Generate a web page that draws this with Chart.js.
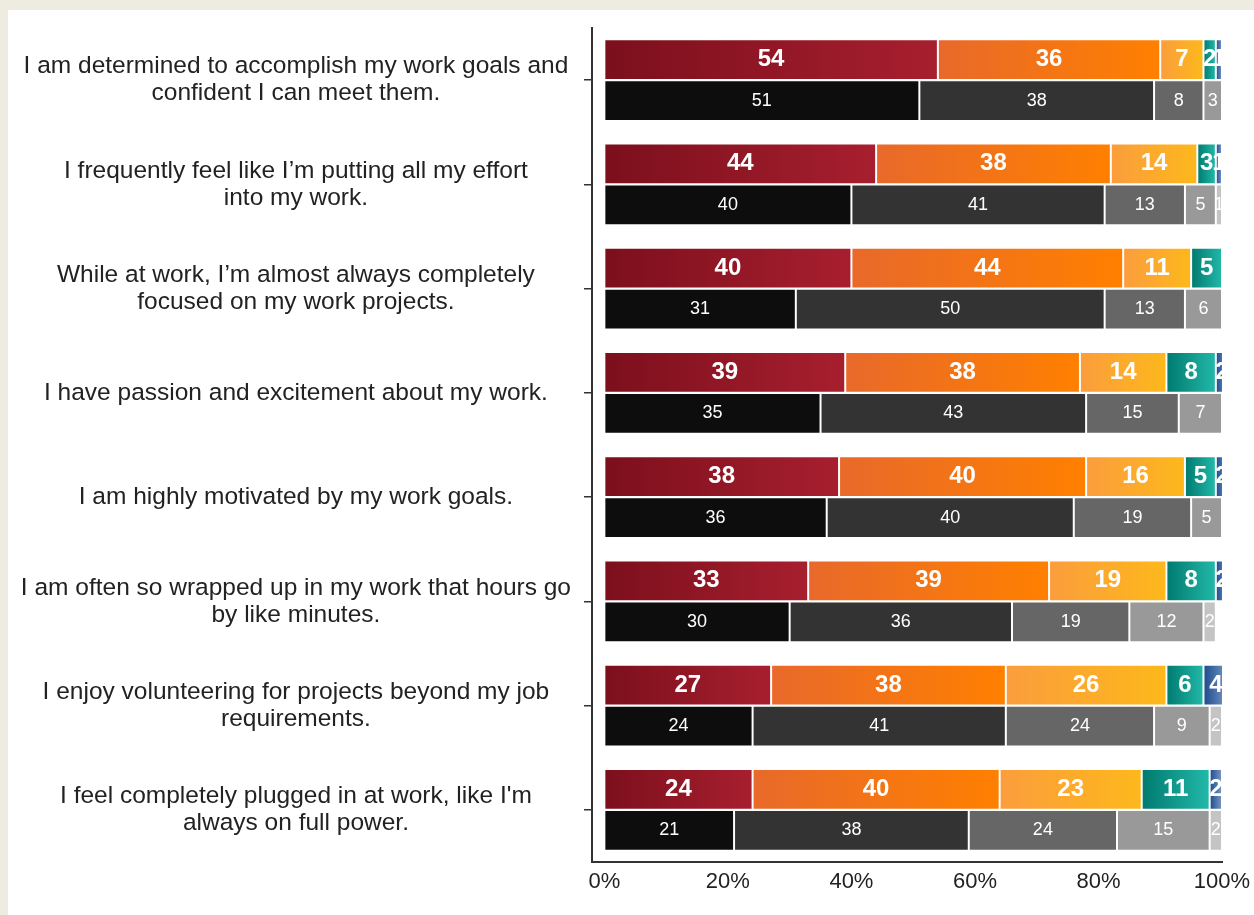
<!DOCTYPE html>
<html>
<head>
<meta charset="utf-8">
<script src="https://cdn.jsdelivr.net/npm/chart.js@4.4.1/dist/chart.umd.min.js"></script>
<style>
  html, body { margin: 0; padding: 0; background: #eeebe0; }
  #wrap { position: absolute; left: 8px; top: 10px; width: 1246px; height: 905px; background: #fff; }
  canvas { display: block; }
</style>
</head>
<body>
<div id="wrap"><canvas id="engagementChart" width="1246" height="905"></canvas></div>
<script>
const statements = [
  ["I am determined to accomplish my work goals and", "confident I can meet them."],
  ["I frequently feel like I\u2019m putting all my effort", "into my work."],
  ["While at work, I\u2019m almost always completely", "focused on my work projects."],
  "I have passion and excitement about my work.",
  "I am highly motivated by my work goals.",
  ["I am often so wrapped up in my work that hours go", "by like minutes."],
  ["I enjoy volunteering for projects beyond my job", "requirements."],
  ["I feel completely plugged in at work, like I'm", "always on full power."]
];

// company responses (coloured bars)
const stronglyAgree    = [54, 44, 40, 39, 38, 33, 27, 24];
const agree            = [36, 38, 44, 38, 40, 39, 38, 40];
const neutral          = [7, 14, 11, 14, 16, 19, 26, 23];
const disagree         = [2, 3, 5, 8, 5, 8, 6, 11];
const stronglyDisagree = [1, 1, 0, 2, 2, 2, 4, 2];

// benchmark responses (grey bars)
const benchStronglyAgree    = [51, 40, 31, 35, 36, 30, 24, 21];
const benchAgree            = [38, 41, 50, 43, 40, 36, 41, 38];
const benchNeutral          = [8, 13, 13, 15, 19, 19, 24, 24];
const benchDisagree         = [3, 5, 6, 7, 5, 12, 9, 15];
const benchStronglyDisagree = [0, 1, 0, 1, 1, 2, 2, 2];

const xTicks = [0, 20, 40, 60, 80, 100];

const colourSeries = [stronglyAgree, agree, neutral, disagree, stronglyDisagree];
const greySeries = [benchStronglyAgree, benchAgree, benchNeutral, benchDisagree, benchStronglyDisagree];
const seriesNames = ["Strongly agree", "Agree", "Neutral", "Disagree", "Strongly disagree"];

const gradientStops = [
  ["#7c0f1c", "#a71f2f"],
  ["#e8692a", "#ff8000"],
  ["#fb9d3d", "#fdb81b"],
  ["#007a6f", "#22b9a9"],
  ["#1b4a8b", "#7b99c9"]
];
const greys = ["#0d0d0d", "#333333", "#666666", "#999999", "#c4c4c4"];

// horizontal gradient across a single segment
function segmentFill(series, idx) {
  return function (ctx) {
    const chart = ctx.chart;
    if (ctx.type !== "data" || !chart.chartArea) return gradientStops[idx][1];
    let start = 0;
    for (let k = 0; k < idx; k++) start += series[k][ctx.dataIndex];
    const end = start + series[idx][ctx.dataIndex];
    const x = chart.scales.x;
    const x0 = x.getPixelForValue(start), x1 = x.getPixelForValue(end);
    if (x1 - x0 < 1) return gradientStops[idx][1];
    const g = chart.ctx.createLinearGradient(x0, 0, x1, 0);
    g.addColorStop(0, gradientStops[idx][0]);
    g.addColorStop(1, gradientStops[idx][1]);
    return g;
  };
}

const datasets = [];
colourSeries.forEach((data, i) => {
  datasets.push({
    label: seriesNames[i],
    data: data,
    stack: "company",
    backgroundColor: segmentFill(colourSeries, i),
    borderColor: "rgba(255,255,255,0.35)",
    borderWidth: 1,
    borderSkipped: false
  });
});
greySeries.forEach((data, i) => {
  datasets.push({
    label: "Benchmark " + seriesNames[i],
    data: data,
    stack: "benchmark",
    backgroundColor: greys[i],
    borderColor: "rgba(255,255,255,0.25)",
    borderWidth: 1,
    borderSkipped: false
  });
});

// white numbers in the middle of each segment
const segmentLabels = {
  id: "segmentLabels",
  afterDatasetsDraw(chart) {
    const c = chart.ctx;
    c.save();
    c.fillStyle = "#ffffff";
    c.textAlign = "center";
    c.textBaseline = "middle";
    chart.data.datasets.forEach((ds, di) => {
      const meta = chart.getDatasetMeta(di);
      c.font = ds.stack === "company"
        ? "bold 24px 'Liberation Sans', Arial, sans-serif"
        : "18px 'Liberation Sans', Arial, sans-serif";
      meta.data.forEach((bar, j) => {
        const v = ds.data[j];
        if (!v) return;
        c.fillText(String(v), (bar.x + bar.base) / 2, bar.y);
      });
    });
    c.restore();
  }
};

Chart.defaults.font.family = "'Liberation Sans', Arial, sans-serif";
Chart.defaults.color = "#222";

new Chart(document.getElementById("engagementChart"), {
  type: "bar",
  data: { labels: statements, datasets: datasets },
  options: {
    indexAxis: "y",
    responsive: false,
    animation: false,
    devicePixelRatio: 1,
    layout: { padding: { top: 18, right: 32, left: 0, bottom: 0 } },
    datasets: { bar: { categoryPercentage: 0.79, barPercentage: 0.99 } },
    plugins: { legend: { display: false }, tooltip: { enabled: false } },
    scales: {
      x: {
        stacked: true,
        min: -2,
        max: 100,
        afterBuildTicks: s => { s.ticks = xTicks.map(v => ({ value: v })); },
        afterFit: s => { s.height = 53; s.paddingLeft = 0; s.paddingRight = 0; },
        grid: { display: false, drawTicks: false },
        border: { display: true, color: "#333", width: 2 },
        ticks: {
          padding: 7,
          font: { size: 22 },
          color: "#222",
          callback: v => v + "%"
        }
      },
      y: {
        stacked: true,
        afterFit: s => { s.width = 584; s.paddingTop = 0; s.paddingBottom = 0; },
        grid: {
          display: true,
          drawOnChartArea: false,
          drawTicks: true,
          tickLength: 8,
          offset: false,
          color: "#333",
          lineWidth: 1.5
        },
        border: { display: true, color: "#333", width: 2 },
        ticks: {
          crossAlign: "center",
          padding: 13,
          font: { size: 24.5, lineHeight: 1.1 },
          color: "#222"
        }
      }
    }
  },
  plugins: [segmentLabels]
});
</script>
</body>
</html>
